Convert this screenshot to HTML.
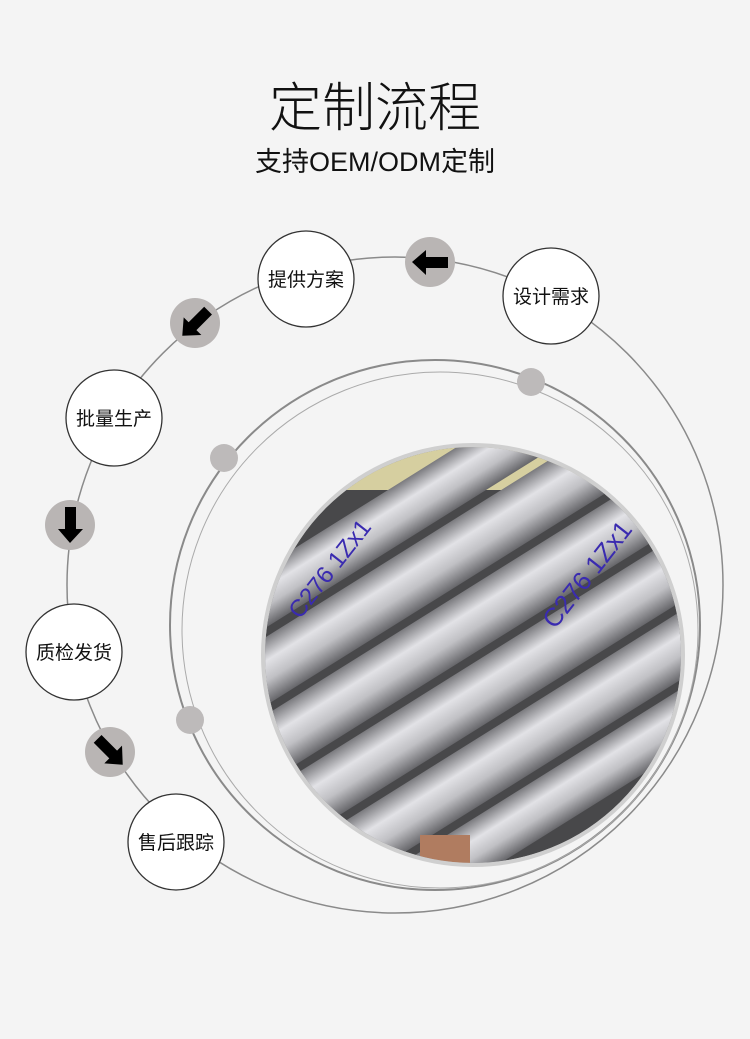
<!DOCTYPE html>
<html><head><meta charset="utf-8"><style>
html,body{margin:0;padding:0;background:#f4f4f4;}
svg{display:block}
text{font-family:"Liberation Sans","Noto Sans CJK SC",sans-serif;}
</style></head><body>
<svg width="750" height="1039" viewBox="0 0 750 1039" xmlns="http://www.w3.org/2000/svg">
<defs>
<clipPath id="pc"><circle cx="473" cy="655" r="208"/></clipPath>
<linearGradient id="rod" x1="0" y1="0" x2="0" y2="1">
<stop offset="0" stop-color="#7a7a7e"/><stop offset="0.35" stop-color="#e2e2e6"/><stop offset="0.65" stop-color="#c0c0c4"/><stop offset="1" stop-color="#66666a"/>
</linearGradient>
</defs>
<rect width="750" height="1039" fill="#f4f4f4"/>
<text x="375" y="126" font-size="53" text-anchor="middle" fill="#111" font-weight="300">定制流程</text>
<text x="375" y="171" font-size="27" text-anchor="middle" fill="#111">支持OEM/ODM定制</text>
<circle cx="395" cy="585" r="328" fill="none" stroke="#8a8a8a" stroke-width="1.5"/>
<circle cx="435" cy="625" r="265" fill="none" stroke="#8a8a8a" stroke-width="2"/>
<circle cx="440" cy="630" r="258" fill="none" stroke="#aaa" stroke-width="1"/>
<circle cx="473" cy="655" r="211" fill="#ccc"/>
<g clip-path="url(#pc)">
<rect x="260" y="440" width="430" height="430" fill="#48484a"/>
<polygon points="300,440 690,440 690,490 330,490" fill="#d6cfa0"/>
<g transform="rotate(-32 473 655)">
<rect x="180" y="470" width="600" height="52" rx="26" fill="url(#rod)"/>
<rect x="180" y="530" width="600" height="58" rx="29" fill="url(#rod)"/>
<rect x="180" y="596" width="600" height="58" rx="29" fill="url(#rod)"/>
<rect x="180" y="662" width="600" height="58" rx="29" fill="url(#rod)"/>
<rect x="180" y="728" width="600" height="58" rx="29" fill="url(#rod)"/>
<rect x="180" y="794" width="600" height="52" rx="26" fill="url(#rod)"/>
</g>
<rect x="420" y="835" width="50" height="40" fill="#b07c60"/>
<text x="555" y="630" font-size="26" fill="#3a2bb0" transform="rotate(-52 555 630)">C276 1Zx1</text>
<text x="300" y="620" font-size="24" fill="#3a2bb0" transform="rotate(-52 300 620)">C276 1Zx1</text>
</g>
<circle cx="473" cy="655" r="210" fill="none" stroke="#cfcfcf" stroke-width="4"/>
<circle cx="531" cy="382" r="14" fill="#bdbaba"/>
<circle cx="224" cy="458" r="14" fill="#bdbaba"/>
<circle cx="190" cy="720" r="14" fill="#bdbaba"/>
<g fill="#b9b5b4">
<circle cx="430" cy="262" r="25"/><circle cx="195" cy="323" r="25"/>
<circle cx="70" cy="525" r="25"/><circle cx="110" cy="752" r="25"/>
</g>
<g fill="#000">
<polygon points="412,262 426,250 426,257 448,257 448,268 426,268 426,275" />
<g transform="rotate(-45 195 323)"><polygon points="177,323 191,311 191,318 213,318 213,329 191,329 191,336"/></g>
<g transform="rotate(-90 70 525)"><polygon points="52,525 66,513 66,520 88,520 88,531 66,531 66,538"/></g>
<g transform="rotate(-135 110 752)"><polygon points="92,752 106,740 106,747 128,747 128,758 106,758 106,765"/></g>
</g>
<g fill="#fff" stroke="#333" stroke-width="1.3">
<circle cx="551" cy="296" r="48"/><circle cx="306" cy="279" r="48"/>
<circle cx="114" cy="418" r="48"/><circle cx="74" cy="652" r="48"/><circle cx="176" cy="842" r="48"/>
</g>
<g font-size="19" fill="#111" text-anchor="middle">
<text x="551" y="303">设计需求</text><text x="306" y="286">提供方案</text>
<text x="114" y="425">批量生产</text><text x="74" y="659">质检发货</text><text x="176" y="849">售后跟踪</text>
</g>
</svg>
</body></html>
